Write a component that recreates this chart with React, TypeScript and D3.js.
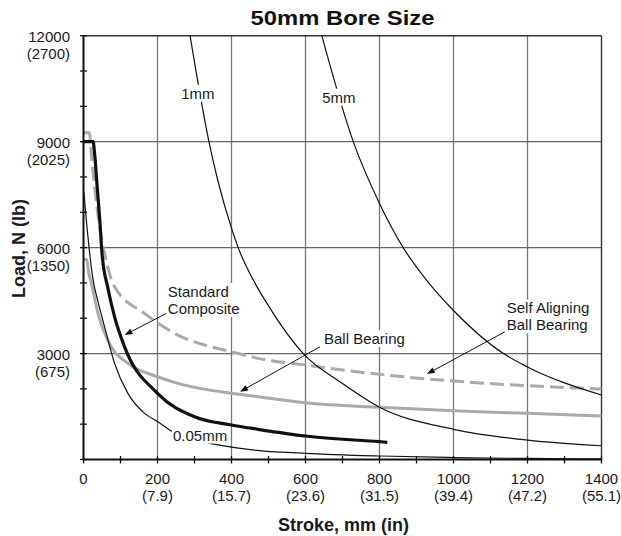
import React, { useLayoutEffect, useRef, useState } from 'react';
import * as d3 from 'd3';

// ---- Data (stroke mm, load N) ----
const xTickValues = [0, 200, 400, 600, 800, 1000, 1200, 1400];
const xTickInches = ['', '(7.9)', '(15.7)', '(23.6)', '(31.5)', '(39.4)', '(47.2)', '(55.1)'];
const yTickValues = [3000, 6000, 9000, 12000];
const yTickPounds = ['(675)', '(1350)', '(2025)', '(2700)'];

const oneMm: [number, number][] = [
  [288, 12000], [339, 9000], [363, 7900], [400, 6550], [418, 6000], [459, 5080], [500, 4350],
  [594, 3000], [700, 2150], [800, 1480], [1000, 855], [1200, 550], [1400, 390],
];
const fiveMm: [number, number][] = [
  [644, 12000], [729, 9000], [800, 7250], [864, 6000], [927, 5080], [1000, 4220],
  [1135, 3000], [1200, 2620], [1400, 1825],
];
const pointZeroFiveMm: [number, number][] = [
  [1, 7580], [12, 6305], [26, 5080], [39, 4480], [57, 3758], [84, 2722], [120, 1873],
  [165, 1307], [201, 1070], [233, 835], [323, 504], [450, 280], [600, 175], [800, 99],
  [1000, 55], [1200, 30], [1400, 15],
];
const standardComposite: [number, number][] = [
  [0, 9000], [26, 9000], [30, 8665], [37, 7720], [44, 6780], [50, 5835], [66, 4850],
  [84, 4040], [111, 3190], [200, 1873], [300, 1211], [400, 976], [472, 855], [600, 665],
  [800, 504], [821, 487],
];
const ballBearing: [number, number][] = [
  [0, 5665], [9, 5665], [14, 5300], [21, 5000], [40, 4100], [75, 3192], [120, 2722],
  [200, 2343], [255, 2156], [400, 1873], [472, 1779], [600, 1608], [800, 1477],
  [1000, 1381], [1200, 1307], [1400, 1231],
];
const selfAligning: [number, number][] = [
  [0, 9250], [16, 9250], [21, 8665], [30, 7720], [41, 6780], [57, 5835], [84, 4890],
  [165, 4137], [200, 3872], [255, 3523], [345, 3192], [400, 3051], [472, 2864],
  [600, 2674], [800, 2411], [1000, 2222], [1200, 2089], [1400, 1995],
];

// annotation anchors in data units
const curveLabels = [
  { text: '1mm', at: [309, 10370] },
  { text: '5mm', at: [690, 10260] },
  { text: '0.05mm', at: [315, 693] },
];
const calloutLabels = [
  { lines: ['Standard', 'Composite'], at: [228, 4600], from: [224, 4137], to: [111, 3524] },
  { lines: ['Ball Bearing'], at: [650, 3270], from: [639, 3192], to: [423, 1919] },
  { lines: ['Self Aligning', 'Ball Bearing'], at: [1144, 4140], from: [1139, 3617], to: [928, 2420] },
];

const W = 621;
const H = 536;
const FONT = '"Liberation Sans", Arial, Helvetica, sans-serif';

const x = d3.scaleLinear().domain([0, 1400]).range([83.5, 601.5]);
const y = d3.scaleLinear().domain([0, 12000]).range([459.5, 35.7]);

const line = d3
  .line<[number, number]>()
  .x((d) => x(d[0]))
  .y((d) => y(d[1]))
  .curve(d3.curveMonotoneX);

function BgText(props: {
  x: number;
  y: number;
  lines: string[];
  anchor: 'start' | 'middle';
  pad?: number;
  lineH?: number;
}) {
  const ref = useRef<SVGTextElement>(null);
  const [box, setBox] = useState<{ x: number; y: number; w: number; h: number } | null>(null);
  const lh = props.lineH ?? 17;
  const pad = props.pad ?? 2;
  useLayoutEffect(() => {
    if (ref.current) {
      const b = ref.current.getBBox();
      setBox({ x: b.x, y: b.y, w: b.width, h: b.height });
    }
  }, []);
  return (
    <g>
      {box && (
        <rect x={box.x - pad} y={box.y - pad + 1} width={box.w + 2 * pad} height={box.h + 2 * pad - 2} fill="#fff" />
      )}
      <text
        ref={ref}
        x={props.x}
        y={props.y}
        textAnchor={props.anchor}
        fontFamily={FONT}
        fontSize={15}
        fill="#1a1a1a"
      >
        {props.lines.map((l, i) => (
          <tspan key={i} x={props.x} dy={i === 0 ? 0 : lh}>
            {l}
          </tspan>
        ))}
      </text>
    </g>
  );
}

function Arrow({ from, to }: { from: number[]; to: number[] }) {
  const x1 = x(from[0]);
  const y1 = y(from[1]);
  const x2 = x(to[0]);
  const y2 = y(to[1]);
  const a = Math.atan2(y2 - y1, x2 - x1);
  const L = 8;
  const hw = 3;
  const bx = x2 - L * Math.cos(a);
  const by = y2 - L * Math.sin(a);
  const p1 = [bx + hw * Math.sin(a), by - hw * Math.cos(a)];
  const p2 = [bx - hw * Math.sin(a), by + hw * Math.cos(a)];
  return (
    <g>
      <line x1={x1} y1={y1} x2={bx} y2={by} stroke="#111" strokeWidth={1} />
      <polygon points={`${x2},${y2} ${p1[0]},${p1[1]} ${p2[0]},${p2[1]}`} fill="#111" />
    </g>
  );
}

export default function App() {
  const x0 = x(0);
  const x1 = x(1400);
  const yTop = y(12000);
  const yBot = y(0);
  const minorX = d3.range(0, 1401, 100);
  const minorY = d3.range(0, 12001, 1000);
  return (
    <svg
      width={W}
      height={H}
      viewBox={`0 0 ${W} ${H}`}
      style={{ position: 'absolute', left: 0, top: 0, background: '#fff' }}
    >
      <rect x={0} y={0} width={W} height={H} fill="#fff" />
      {/* title */}
      <text
        x={(x0 + x1) / 2}
        y={25}
        textAnchor="middle"
        fontFamily={FONT}
        fontWeight={900}
        fontSize={20}
        textLength={184}
        lengthAdjust="spacingAndGlyphs"
        fill="#111"
      >
        50mm Bore Size
      </text>

      {/* grid */}
      {xTickValues.slice(1, -1).map((v) => (
        <line key={'gx' + v} x1={x(v)} x2={x(v)} y1={yTop} y2={yBot} stroke="#777" strokeWidth={1.3} />
      ))}
      {yTickValues.slice(0, -1).map((v) => (
        <line key={'gy' + v} x1={x0 - 3} x2={x1} y1={y(v)} y2={y(v)} stroke="#666" strokeWidth={1.3} />
      ))}
      {/* border top & right */}
      <line x1={x0} x2={x1} y1={yTop} y2={yTop} stroke="#333" strokeWidth={1.4} />
      <line x1={x1} x2={x1} y1={yTop} y2={yBot} stroke="#333" strokeWidth={1.4} />

      {/* curves */}
      <path d={line(ballBearing) || ''} fill="none" stroke="#aaaaaa" strokeWidth={3} />
      <path d={line(selfAligning) || ''} fill="none" stroke="#aaaaaa" strokeWidth={3} strokeDasharray="14,6" />
      <path d={line(pointZeroFiveMm) || ''} fill="none" stroke="#111" strokeWidth={1.2} />
      <path d={line(oneMm) || ''} fill="none" stroke="#111" strokeWidth={1.2} />
      <path d={line(fiveMm) || ''} fill="none" stroke="#111" strokeWidth={1.2} />
      <path d={line(standardComposite) || ''} fill="none" stroke="#111" strokeWidth={3.2} />

      {/* curve labels */}
      {curveLabels.map((c) => (
        <BgText key={c.text} x={x(c.at[0])} y={y(c.at[1]) + 5.5} lines={[c.text]} anchor="middle" pad={1} />
      ))}
      {calloutLabels.map((c) => (
        <g key={c.lines.join()}>
          <BgText x={x(c.at[0])} y={y(c.at[1])} lines={c.lines} anchor="start" pad={1} />
          <Arrow from={c.from} to={c.to} />
        </g>
      ))}

      {/* axes */}
      <line x1={x0} x2={x0} y1={yTop} y2={yBot} stroke="#111" strokeWidth={2} />
      <line x1={x0} x2={x1} y1={yBot} y2={yBot} stroke="#111" strokeWidth={2} />
      {minorY.map((v) => (
        <line key={'ty' + v} x1={x0 - 3.5} x2={x0 + 3.5} y1={y(v)} y2={y(v)} stroke="#111" strokeWidth={1.3} />
      ))}
      {minorX.map((v) => (
        <line key={'tx' + v} x1={x(v)} x2={x(v)} y1={yBot - 3.5} y2={yBot + 4} stroke="#111" strokeWidth={1.3} />
      ))}

      {/* y tick labels */}
      {yTickValues.map((v, i) => (
        <text key={'yl' + v} textAnchor="end" fontFamily={FONT} fontSize={15} fill="#1a1a1a">
          <tspan x={70} y={y(v) + 6}>
            {v}
          </tspan>
          <tspan x={70} y={y(v) + 23.5}>
            {yTickPounds[i]}
          </tspan>
        </text>
      ))}
      {/* x tick labels */}
      {xTickValues.map((v, i) => (
        <text key={'xl' + v} textAnchor="middle" fontFamily={FONT} fontSize={15} fill="#1a1a1a">
          <tspan x={x(v)} y={yBot + 24}>
            {v}
          </tspan>
          {xTickInches[i] && (
            <tspan x={x(v)} y={yBot + 41.5}>
              {xTickInches[i]}
            </tspan>
          )}
        </text>
      ))}

      {/* axis titles */}
      <text
        x={(x0 + x1) / 2 + 1}
        y={531}
        textAnchor="middle"
        fontFamily={FONT}
        fontWeight="bold"
        fontSize={18}
        fill="#1a1a1a"
      >
        Stroke, mm (in)
      </text>
      <text
        transform={`translate(25,${(yTop + yBot) / 2 + 1}) rotate(-90)`}
        textAnchor="middle"
        fontFamily={FONT}
        fontWeight="bold"
        fontSize={18}
        fill="#1a1a1a"
      >
        Load, N (lb)
      </text>
    </svg>
  );
}
